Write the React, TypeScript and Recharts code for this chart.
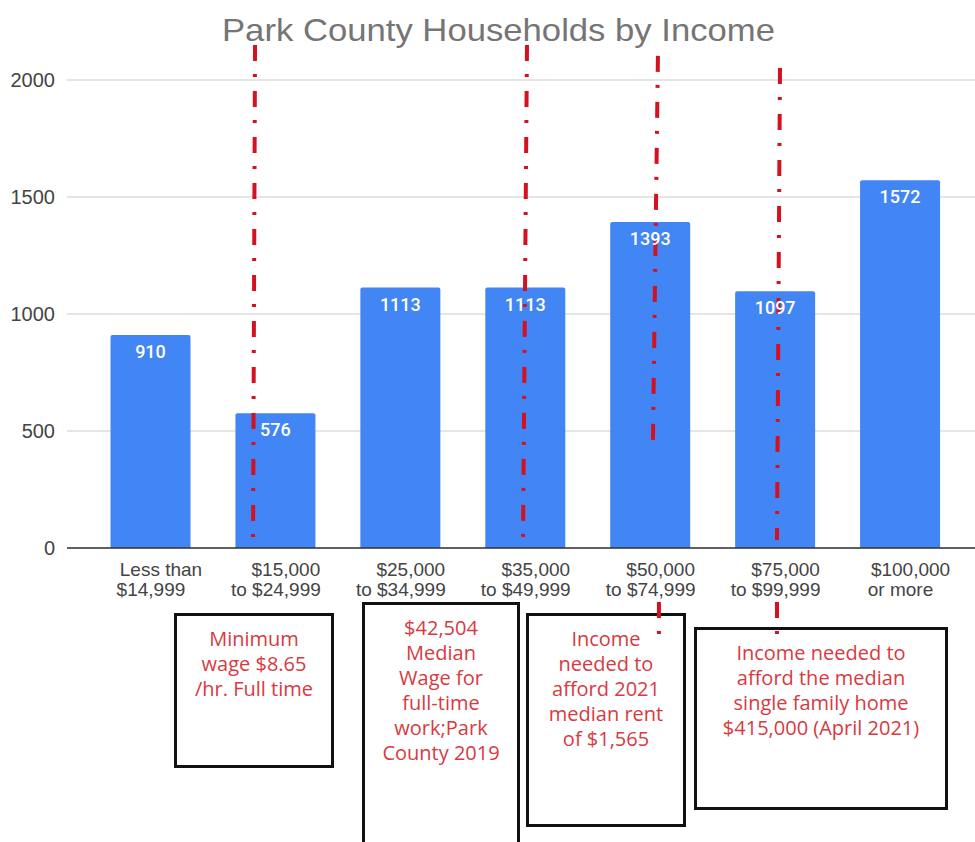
import React from 'react';
import { BarChart, Bar, XAxis, YAxis, CartesianGrid, ReferenceLine, LabelList } from 'recharts';

const categories = [
  'Less than $14,999',
  '$15,000 to $24,999',
  '$25,000 to $34,999',
  '$35,000 to $49,999',
  '$50,000 to $74,999',
  '$75,000 to $99,999',
  '$100,000 or more',
];
const tickTopLines = ['Less than', '$15,000', '$25,000', '$35,000', '$50,000', '$75,000', '$100,000'];
const tickBottomLines = ['$14,999', 'to $24,999', 'to $34,999', 'to $49,999', 'to $74,999', 'to $99,999', 'or more'];
const households = [910, 576, 1113, 1113, 1393, 1097, 1572];
const yTicks = [0, 500, 1000, 1500, 2000];

// Red dash-dot marker lines, as [category index position, households] pairs
const markerSegments: [number, number][][] = [
  [[0.833, 2150], [0.817, 21]],
  [[3.01, 2150], [2.978, 34]],
  [[4.058, 2103], [4.018, 449]],
  [[4.066, -231], [4.066, -368]],
  [[5.035, 2051], [5.011, 34]],
  [[5.011, -231], [5.011, -368]],
];

const noteTexts = [
  ['Minimum', 'wage $8.65', '/hr. Full time'],
  ['$42,504', 'Median', 'Wage for', 'full-time', 'work;Park', 'County 2019'],
  ['Income', 'needed to', 'afford 2021', 'median rent', 'of $1,565'],
  ['Income needed to', 'afford the median', 'single family home', '$415,000 (April 2021)'],
];

const data = categories.map((c, i) => ({ category: c, households: households[i] }));

// layout of the note boxes (pixels)
const noteBoxes = [
  { left: 174, top: 613, width: 160, height: 155, textTop: 626 },
  { left: 362, top: 602, width: 158, height: 260, textTop: 615 },
  { left: 526, top: 613, width: 160, height: 214, textTop: 626 },
  { left: 694, top: 627, width: 254, height: 183, textTop: 640 },
];

const RED = '#d4111e';
const AXIS_FONT = '"Liberation Sans", Arial, sans-serif';

const CategoryTick = (props: any) => {
  const { x, y, payload } = props;
  const i = categories.indexOf(payload.value);
  return (
    <g>
      <text x={Number(x) + 10} y={Number(y) + 28} textAnchor="middle" fill="#444" fontSize={19} fontFamily={AXIS_FONT}>
        {tickTopLines[i]}
      </text>
      <text x={Number(x)} y={Number(y) + 48} textAnchor="middle" fill="#444" fontSize={19} fontFamily={AXIS_FONT}>
        {tickBottomLines[i]}
      </text>
    </g>
  );
};

const ValueLabel = (props: any) => {
  const { x, y, width, value } = props;
  return (
    <text
      x={Number(x) + Number(width) / 2}
      y={Number(y) + 23}
      textAnchor="middle"
      fill="#ffffff"
      fontSize={18}
      fontWeight={500}
      fontFamily="Roboto, sans-serif"
    >
      {value}
    </text>
  );
};

export default function App() {
  return (
    <div style={{ position: 'absolute', left: 0, top: 0, width: 975, height: 842, background: '#fff', overflow: 'hidden' }}>
      {noteBoxes.map((b, i) => (
        <React.Fragment key={i}>
          <div
            style={{
              position: 'absolute',
              left: b.left,
              top: b.top,
              width: b.width,
              height: b.height,
              border: '3px solid #111',
              boxSizing: 'border-box',
            }}
          />
          <div
            style={{
              position: 'absolute',
              left: b.left,
              top: b.textTop,
              width: b.width,
              textAlign: 'center',
              color: '#d83a3f',
              fontFamily: '"Open Sans", sans-serif',
              fontSize: 20,
              lineHeight: '25px',
              whiteSpace: 'nowrap',
            }}
          >
            {noteTexts[i].map((t, j) => (
              <div key={j}>{t}</div>
            ))}
          </div>
        </React.Fragment>
      ))}
      <div style={{ position: 'absolute', left: 0, top: 0 }}>
        <BarChart width={975} height={842} data={data} margin={{ top: 80, right: 0, bottom: 234, left: 0 }}>
          <CartesianGrid vertical={false} stroke="#cccccc" />
          <XAxis
            dataKey="category"
            padding={{ left: 21.5, right: 12 }}
            tickLine={false}
            tickSize={0}
            tickMargin={0}
            axisLine={{ stroke: '#333', strokeWidth: 1.5 }}
            height={60}
            interval={0}
            tick={<CategoryTick />}
          />
          <XAxis
            xAxisId="ann"
            type="number"
            domain={[0, 6]}
            allowDataOverflow
            hide
            padding={{ left: 83.96, right: 74.46 }}
          />
          <YAxis
            width={67}
            domain={[0, 2000]}
            ticks={yTicks}
            axisLine={false}
            tickLine={false}
            tickSize={0}
            tickMargin={12}
            tick={{ fontSize: 20, fill: '#444', fontFamily: AXIS_FONT }}
          />
          <Bar dataKey="households" fill="#4285f4" barSize={80} radius={[2, 2, 0, 0]} isAnimationActive={false}>
            <LabelList dataKey="households" content={<ValueLabel />} />
          </Bar>
          {markerSegments.map((seg, i) => (
            <ReferenceLine
              key={i}
              xAxisId="ann"
              segment={[
                { x: seg[0][0], y: seg[0][1] },
                { x: seg[1][0], y: seg[1][1] },
              ]}
              ifOverflow="visible"
              stroke={RED}
              strokeWidth={4}
              strokeDasharray="16 13 3 14"
            />
          ))}
        </BarChart>
      </div>
      <svg width={975} height={60} style={{ position: 'absolute', left: 0, top: 0 }}>
        <text
          x={498.5}
          y={41}
          textAnchor="middle"
          fontSize={32}
          fill="#757575"
          fontFamily={AXIS_FONT}
          textLength={553}
          lengthAdjust="spacingAndGlyphs"
        >
          Park County Households by Income
        </text>
      </svg>
    </div>
  );
}
